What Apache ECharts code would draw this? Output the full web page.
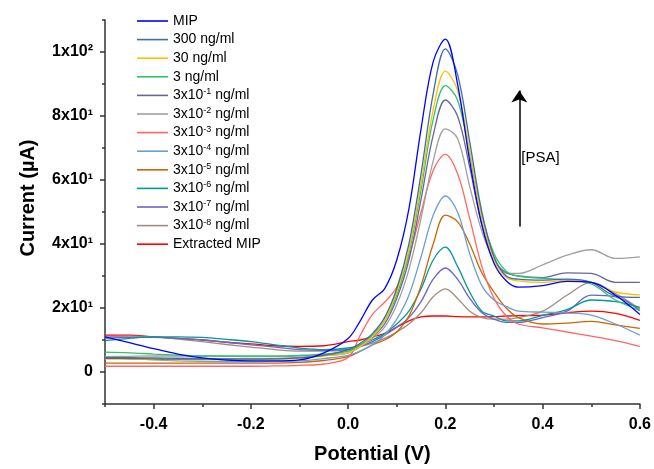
<!DOCTYPE html>
<html><head><meta charset="utf-8">
<script src="https://cdn.jsdelivr.net/npm/echarts@6/dist/echarts.min.js"></script>
<style>html,body{margin:0;padding:0;background:#fff}#c{width:654px;height:469px}</style>
</head><body><div id="c"></div>
<script>
// Potential (V)
const potential = [-0.5,-0.45,-0.4,-0.35,-0.3,-0.25,-0.2,-0.15,-0.1,-0.05,0,0.025,0.05,0.075,0.1,0.125,0.15,0.175,0.2,0.225,0.25,0.275,0.3,0.325,0.35,0.4,0.45,0.5,0.55,0.6];
// Current (µA) per series
const mip       = [11,9.2,7.3,5.6,4.4,3.7,3.5,3.5,3.8,6, 10.5,16,22.5,26,35,51,76,97,104,90,66,46,34,28.5,26.5, 27,28.3,28,24,18];
const c300      = [4.3,4.2,4.1,4,4,4,4,4.1,4.4,5.2, 7,9,12,17,26,40,62,87,101,93,72,50,36,30,29, 28.7,29,28,23.8,23.3];
const c30       = [4,4,3.9,3.8,3.8,3.8,3.9,4,4.3,5, 6,8,11,16,25,38,59,82,94,88,69,48,35,29.5,28.5, 28,28.7,28,25,24.1];
const c3        = [6.2,6,5.6,5.3,5,5,5,5,5.2,5.6, 6.5,8.5,11.5,16,24,37,57,79,89.5,85,68,49,37,31.5,30, 29.3,28.8,27.5,22.5,19.2];
const c3em1     = [4.5,4.5,4.4,4.3,4.2,4.1,4.1,4.2,4.5,5.2, 6,8,11,15,23,35,54,74,85,80,64,46,35,31,30, 29.5,31,30.8,28,28];
const c3em2     = [4.8,4.9,5,5,5,4.9,4.8,4.8,5,5.5, 6.5,8,10.5,14,21,32,48,66,76,73,58,44,35,31,30.8, 33.5,36.5,38.2,35.5,36];
const c3em3     = [1.8,1.8,1.8,1.8,1.8,1.8,1.8,1.9,2.1,2.5, 4.5,11.5,18,21.8,26.5,36,50,63,68,62,48,33,23,17.5,15, 13.8,12.5,11.2,9.8,8];
const c3em4     = [4.5,4.2,3.8,3.5,3.3,3.2,3.2,3.3,3.5,4.2, 5.2,6.5,8.5,11.5,16.5,24,36,49,55,50,37,27,22.5,20.5,19, 18.7,18.5,17.8,15,11.5];
const c3em5     = [2.8,2.8,2.8,2.8,2.8,2.8,2.8,2.8,3,3.6, 4.8,6.5,8.5,10,12.5,17.5,27,40,49,47,40,31,25,20,17, 15,15.3,15.8,14.7,13.6];
const c3em6     = [9.8,10.5,11,11,10.8,10.2,9.5,8.5,7.5,7, 7.5,8.5,10,12,15,19,26,35,39,33,25,19,17.5,16,16, 17.7,19.5,22.5,22,20.2];
const c3em7     = [10.5,10.8,10.8,10.5,10,9.3,8.5,7.8,7,6.8, 7,8,9.5,11.5,14,17,22,29,32.5,29,23,18.5,16.5,15.5,15.5, 17,19,24,23.5,19.2];
const c3em8     = [11,11.2,11,10.3,9.5,8.6,7.8,7,6.5,6.5, 7,8,9,10.5,12.5,15,18.5,23.5,26,23,19,17,16.5,16.5,17, 19,24,28,24.5,19.7];
const extracted = [11.5,11.5,11,10.5,10,9.3,8.8,8.2,8,8.2, 9.5,10,11,12,14,16,17.2,17.5,17.5,17.3,17.2,17.2,17.3,17.5,17.6, 17.8,18.5,19,18.3,16.1];

const seriesNames = ['MIP','300 ng/ml','30 ng/ml','3 ng/ml','3x10-1 ng/ml','3x10-2 ng/ml','3x10-3 ng/ml','3x10-4 ng/ml','3x10-5 ng/ml','3x10-6 ng/ml','3x10-7 ng/ml','3x10-8 ng/ml','Extracted MIP'];
const seriesValues = [mip,c300,c30,c3,c3em1,c3em2,c3em3,c3em4,c3em5,c3em6,c3em7,c3em8,extracted];
const seriesColors = ['#0000ff','#3a6ea5','#ffc000','#33c26a','#66669e','#a0a0a0','#ff6666','#6a9fd4','#cc6600','#009999','#6b62cc','#a08c82','#ff0000'];

const yTickValues = [0,20,40,60,80,100];
const yTickLabels = ['0','2x10¹','4x10¹','6x10¹','8x10¹','1x10²'];
const yMinorTicks = [-10,10,30,50,70,90,110];
const xTickValues = [-0.4,-0.2,0,0.2,0.4,0.6];
const xTickLabels = ['-0.4','-0.2','0.0','0.2','0.4','0.6'];
const xMinorTicks = [-0.5,-0.3,-0.1,0.1,0.3,0.5];

const arrowFrom = [0.352, 45.5];
const arrowTo = [0.352, 88];
const arrowText = '[PSA]';
const arrowTextPos = [0.352, 67];

const FONT = '"Liberation Sans", Arial, sans-serif';
const axisColor = '#333';

const series = seriesNames.map((n, i) => ({
  name: n,
  type: 'line',
  data: potential.map((x, j) => [x, seriesValues[i][j]]),
  smooth: 0.35,
  symbol: 'none',
  showSymbol: false,
  lineStyle: { width: 1.3, color: seriesColors[i] },
  itemStyle: { color: seriesColors[i] },
  z: 2 + (seriesNames.length - i)
}));
series[0].markLine = {
  silent: true,
  symbol: ['none', 'arrow'],
  symbolSize: 12,
  symbolOffset: 0,
  label: { show: false },
  lineStyle: { color: '#000', width: 1.5, type: 'solid' },
  emphasis: { disabled: true },
  data: [[{ coord: arrowFrom, symbol: 'none' }, { coord: arrowTo, symbol: 'arrow', symbolSize: 12 }]]
};
series[0].markPoint = {
  silent: true,
  symbol: 'circle',
  symbolSize: 0,
  label: { show: true, position: 'right', distance: 2, formatter: arrowText, color: '#000', fontSize: 15, fontFamily: FONT },
  data: [{ coord: arrowTextPos }]
};

const chart = echarts.init(document.getElementById('c'), null, { renderer: 'canvas' });
chart.setOption({
  animation: false,
  backgroundColor: '#fff',
  grid: { left: 105, right: 12, top: 20, bottom: 59, containLabel: false },
  legend: {
    orient: 'vertical', left: 132, top: 8,
    icon: 'rect',
    itemWidth: 31, itemHeight: 1.6, itemGap: 2.6,
    data: seriesNames,
    formatter: n => n.replace(/x10(-\d)/, 'x10{s|$1}'),
    textStyle: {
      fontSize: 14, fontFamily: FONT, color: '#000', lineHeight: 16,
      rich: { s: { fontSize: 9, lineHeight: 9, verticalAlign: 'top', fontFamily: FONT, color: '#000' } }
    }
  },
  xAxis: [{
    type: 'value', min: -0.5, max: 0.6,
    name: 'Potential (V)', nameLocation: 'middle', nameGap: 40,
    nameTextStyle: { fontSize: 20, fontWeight: 'bold', fontFamily: FONT, color: '#000' },
    axisLine: { show: true, onZero: false, lineStyle: { color: axisColor, width: 1.5 } },
    axisTick: { show: true, length: 5, customValues: xTickValues, lineStyle: { color: axisColor, width: 1.5 } },
    axisLabel: { customValues: xTickValues, margin: 13, fontSize: 16, fontWeight: 'bold', fontFamily: FONT, color: '#000',
      formatter: v => xTickLabels[xTickValues.findIndex(t => Math.abs(t - v) < 1e-6)] },
    splitLine: { show: false }
  }, {
    type: 'value', min: -0.5, max: 0.6, position: 'bottom',
    axisLine: { show: false, onZero: false },
    axisTick: { show: true, length: 3, customValues: xMinorTicks, lineStyle: { color: axisColor, width: 1.5 } },
    axisLabel: { show: false },
    splitLine: { show: false }
  }],
  yAxis: [{
    type: 'value', min: -10, max: 110,
    name: 'Current (µA)', nameLocation: 'middle', nameGap: 67, nameRotate: 90,
    nameTextStyle: { fontSize: 20, fontWeight: 'bold', fontFamily: FONT, color: '#000', padding: [0, 0, 0, 28] },
    axisLine: { show: true, onZero: false, lineStyle: { color: axisColor, width: 1.5 } },
    axisTick: { show: true, length: 5, customValues: yTickValues, lineStyle: { color: axisColor, width: 1.5 } },
    axisLabel: { customValues: yTickValues, margin: 12, fontSize: 16, fontWeight: 'bold', fontFamily: FONT, color: '#000',
      formatter: v => yTickLabels[yTickValues.findIndex(t => Math.abs(t - v) < 1e-6)] },
    splitLine: { show: false }
  }, {
    type: 'value', min: -10, max: 110, position: 'left',
    axisLine: { show: false, onZero: false },
    axisTick: { show: true, length: 3, customValues: yMinorTicks, lineStyle: { color: axisColor, width: 1.5 } },
    axisLabel: { show: false },
    splitLine: { show: false }
  }],
  series: series
});
</script></body></html>
